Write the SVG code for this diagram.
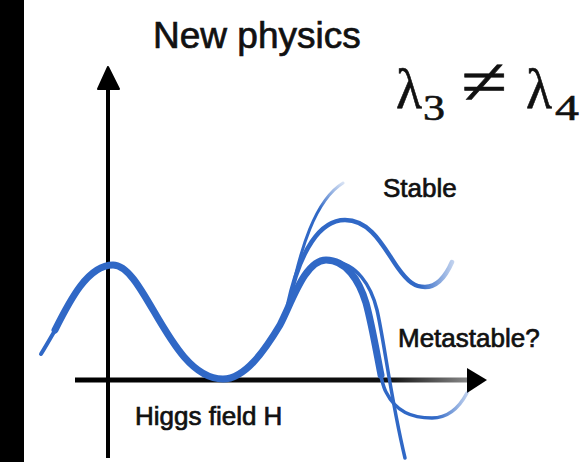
<svg xmlns="http://www.w3.org/2000/svg" width="584" height="462" viewBox="0 0 584 462">
<style>
.lbl{font-family:"Liberation Sans","Arial",sans-serif;fill:#111;stroke:#111;stroke-width:0.7;}
.math{font-family:"Liberation Serif","DejaVu Serif",serif;fill:#111;stroke:#111;stroke-width:0.6;}
.crv{fill:none;stroke-linecap:round;stroke-linejoin:round;}
</style>
<defs>
<linearGradient id="hax" gradientUnits="userSpaceOnUse" x1="75" y1="0" x2="468" y2="0">
<stop offset="0" stop-color="#000"/><stop offset="0.8" stop-color="#111"/><stop offset="1" stop-color="#888"/>
</linearGradient>
<linearGradient id="fadeUp" gradientUnits="userSpaceOnUse" x1="300" y1="260" x2="343" y2="183">
<stop offset="0" stop-color="#3068c6"/><stop offset="0.6" stop-color="#3068c6"/><stop offset="1" stop-color="#3068c6" stop-opacity="0.2"/>
</linearGradient>
<linearGradient id="fadeR1" gradientUnits="userSpaceOnUse" x1="420" y1="0" x2="453" y2="0">
<stop offset="0" stop-color="#3068c6"/><stop offset="1" stop-color="#3068c6" stop-opacity="0.3"/>
</linearGradient>
<linearGradient id="fadeR2" gradientUnits="userSpaceOnUse" x1="435" y1="0" x2="468" y2="0">
<stop offset="0" stop-color="#3068c6"/><stop offset="1" stop-color="#3068c6" stop-opacity="0.3"/>
</linearGradient>
</defs>
<rect x="0" y="0" width="584" height="462" fill="#fff"/>
<rect x="0" y="0" width="24" height="462" fill="#000"/>

<g id="axes">
<line x1="108" y1="86" x2="108" y2="458" stroke="#000" stroke-width="4"/>
<polygon points="108,67 98,89 119,89" fill="#000" stroke="#000" stroke-width="2" stroke-linejoin="round"/>
<line x1="75" y1="380" x2="468" y2="380" stroke="url(#hax)" stroke-width="5"/>
<polygon points="467,368 487,380 467,393" fill="#000"/>
</g>

<g id="curves">
<path id="tip" class="crv" stroke="#3068c6" stroke-width="4" d="M41,354 C46,346 51,337 57,327"/>
<path id="main" class="crv" stroke="#3068c6" stroke-width="7" d="M55,330 C70,300 88,265 113,265 C145,265 170,379 223,379 C245,379 265,350 280,325 C292,302 305,260 326,260 C346,260 359,280 366,303 C372,325 377,355 381,375"/>
<path id="steep" class="crv" stroke="#3068c6" stroke-width="3.5" d="M334,262 C356,263 371,285 377,310 C384,340 391,400 405,458"/>
<path id="metastable" class="crv" stroke="url(#fadeR2)" stroke-width="3.5" d="M378,360 C380,372 382,385 386,392 C396,412 412,418 432,418 C447,418 459,408 467,393"/>
<path id="stable" class="crv" stroke="url(#fadeR1)" stroke-width="4.5" d="M288,305 C300,250 320,220 345,220 C372,220 385,250 398,268 C408,282 415,287 425,287 C437,287 445,278 452,262"/>
<path id="top" class="crv" stroke="url(#fadeUp)" stroke-width="3" d="M290,300 C300,250 315,200 343,183"/>
</g>

<g id="labels">
<text class="lbl" x="153" y="48" font-size="37">New physics</text>
<text class="lbl" x="383" y="197" font-size="26">Stable</text>
<text class="lbl" x="398" y="347" font-size="26">Metastable?</text>
<text class="lbl" x="135" y="425" font-size="26">Higgs field H</text>
</g>

<g id="formula" class="math">
<text x="396" y="108" font-size="58" textLength="26" lengthAdjust="spacingAndGlyphs">λ</text>
<text x="423" y="120" font-size="36" textLength="22" lengthAdjust="spacingAndGlyphs">3</text>
<text x="461" y="104" font-size="66" textLength="46" lengthAdjust="spacingAndGlyphs">≠</text>
<text x="526" y="108" font-size="58" textLength="26" lengthAdjust="spacingAndGlyphs">λ</text>
<text x="555" y="120" font-size="36" textLength="24" lengthAdjust="spacingAndGlyphs">4</text>
</g>
</svg>
